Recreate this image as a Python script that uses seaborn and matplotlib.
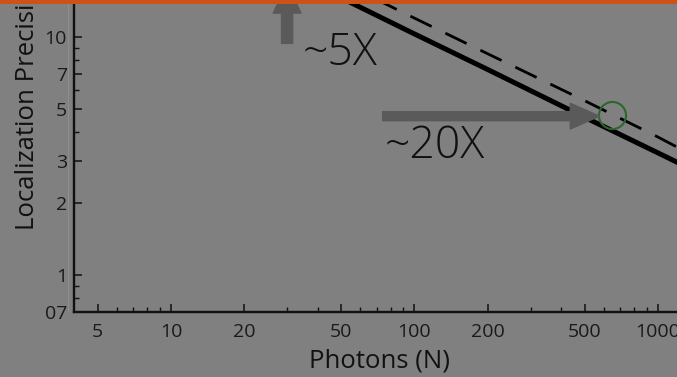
import numpy as np
import pandas as pd
import matplotlib
matplotlib.use('Agg')
import matplotlib.pyplot as plt
import matplotlib.ticker as mticker
from matplotlib.patches import Rectangle
from matplotlib.lines import Line2D
import seaborn as sns

# ---- data ----
photons = [40, 50, 100, 200, 500, 1000, 1300]
precision_solid = [16.3, 14.6, 10.3, 7.3, 4.6, 3.26, 2.86]
precision_dashed = [19.0, 17.0, 12.0, 8.5, 5.4, 3.8, 3.3]

marker_n = [650]
marker_sigma = [4.7]

x_major = [5, 10, 20, 50, 100, 200, 500, 1000]
x_labels = ['5', '10', '20', '50', '100', '200', '500', '1000']
x_minor = [6, 7, 8, 9, 30, 40, 60, 70, 80, 90, 300, 400, 600, 700, 800, 900]
y_major = [0.7, 1, 2, 3, 5, 7, 10]
y_labels = ['07', '1', '2', '3', '5', '7', '10']
y_minor = [0.8, 0.9, 4, 6, 8, 9]

bg = '#808080'

sns.set_style('ticks')
plt.rcParams['font.family'] = ['Open Sans', 'DejaVu Sans']

fig = plt.figure(figsize=(6.77, 3.77), dpi=100)
fig.patch.set_facecolor(bg)
ax = fig.add_axes([74 / 677, 65 / 377, 1 - 74 / 677, 1 - 65 / 377])
ax.set_facecolor(bg)

df = pd.DataFrame({'N': photons, 'solid': precision_solid, 'dashed': precision_dashed})
sns.lineplot(data=df, x='N', y='solid', ax=ax, color='black', lw=3.6)
sns.lineplot(data=df, x='N', y='dashed', ax=ax, color='black', lw=2.0,
             linestyle=(0, (8.5, 5.5)))
ax.plot(marker_n, marker_sigma, 'o', ms=19.5, mfc='none', mec='#2c662c', mew=1.5)

ax.set_xscale('log')
ax.set_yscale('log')
ax.set_xlim(4.0, 1197)
ax.set_ylim(0.7, 14.3)

ax.xaxis.set_major_locator(mticker.FixedLocator(x_major))
ax.xaxis.set_major_formatter(mticker.FixedFormatter(x_labels))
ax.xaxis.set_minor_locator(mticker.FixedLocator(x_minor))
ax.xaxis.set_minor_formatter(mticker.NullFormatter())
ax.yaxis.set_major_locator(mticker.FixedLocator(y_major))
ax.yaxis.set_major_formatter(mticker.FixedFormatter(y_labels))
ax.yaxis.set_minor_locator(mticker.FixedLocator(y_minor))
ax.yaxis.set_minor_formatter(mticker.NullFormatter())

ax.tick_params(which='major', direction='in', length=6, width=1.1, color='#111111',
               labelsize=14, labelcolor='#1a1a1a')
ax.tick_params(which='minor', direction='in', length=3.5, width=1.0, color='#111111')
ax.tick_params(axis='x', which='major', pad=8)
ax.tick_params(axis='y', which='major', pad=5)

for side in ['top', 'right']:
    ax.spines[side].set_visible(False)
for side in ['left', 'bottom']:
    ax.spines[side].set_color('#111111')
    ax.spines[side].set_linewidth(1.7)
ax.set_xlabel('')
ax.set_ylabel('')

# arrows
arrow_color = '#5a5a5a'
ax.annotate('', xy=(575, 4.65), xytext=(74, 4.65), annotation_clip=False,
            arrowprops=dict(arrowstyle='simple,head_length=2.1,head_width=1.85,tail_width=0.65',
                            color=arrow_color, mutation_scale=10, shrinkA=0, shrinkB=0))
ax.annotate('', xy=(30, 16.7), xytext=(30, 9.4), annotation_clip=False,
            arrowprops=dict(arrowstyle='simple,head_length=2.1,head_width=2.0,tail_width=0.8',
                            color=arrow_color, mutation_scale=10, shrinkA=0, shrinkB=0))

ax.text(34.6, 7.63, '~5X', fontsize=32, fontweight='light', color='#111111',
        ha='left', va='baseline')
ax.text(75.3, 3.10, '~20X', fontsize=32, fontweight='light', color='#111111',
        ha='left', va='baseline')

# labels
fig.text(27 / 677, 147 / 377, 'Localization Precision (nm)', rotation=90,
         ha='center', va='bottom', fontsize=18.5, color='#111111')
fig.text(380 / 677, 10 / 377, 'Photons (N)', ha='center', va='baseline',
         fontsize=18.5, color='#111111')

# faint edge line and orange top bar
fig.add_artist(Line2D([68 / 677, 68 / 677], [65 / 377, 1], color='#8e8e8e', lw=0.8))
fig.add_artist(Rectangle((0, 1 - 3.5 / 377), 1, 3.5 / 377, transform=fig.transFigure,
                         facecolor='#cc5218', edgecolor='none', zorder=10))

fig.savefig('out.png', dpi=100, facecolor=bg)
